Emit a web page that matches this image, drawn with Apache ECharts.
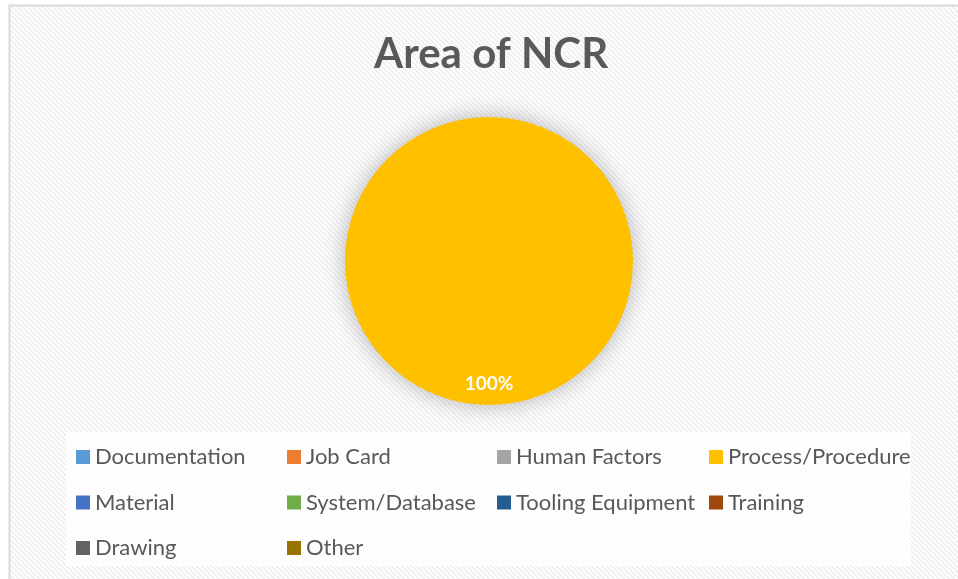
<!DOCTYPE html>
<html>
<head>
<meta charset="utf-8">
<script src="https://cdn.jsdelivr.net/npm/echarts@6/dist/echarts.min.js"></script>
<style>
  html, body { margin: 0; padding: 0; background: #fff; }
  #chart { width: 958px; height: 579px; }
</style>
</head>
<body>
<div id="chart"></div>
<script>
// categories and values (only Process/Procedure has any NCRs -> 100%)
const categories = ['Documentation', 'Job Card', 'Human Factors', 'Process/Procedure',
  'Material', 'System/Database', 'Tooling Equipment', 'Training', 'Drawing', 'Other'];
const counts = [0, 0, 0, 1, 0, 0, 0, 0, 0, 0];
const colors = ['#5B9BD5', '#ED7D31', '#A5A5A5', '#FFC000', '#4472C4',
  '#70AD47', '#255E91', '#9E480E', '#636363', '#997300'];

// legend columns, like Excel lays them out
const legendCols = [
  ['Documentation', 'Material', 'Drawing'],
  ['Job Card', 'System/Database', 'Other'],
  ['Human Factors', 'Tooling Equipment'],
  ['Process/Procedure', 'Training']
];
const legendLeft = [76, 287, 497, 709];

// diagonal hatch used as the chart area fill
function makeHatch() {
  const c = document.createElement('canvas');
  c.width = 5; c.height = 5;
  const ctx = c.getContext('2d');
  const img = ctx.createImageData(5, 5);
  for (let y = 0; y < 5; y++) {
    for (let x = 0; x < 5; x++) {
      const i = (y * 5 + x) * 4;
      const on = ((x - y + 10) % 5) < 2;
      const v = on ? 238 : 253;
      img.data[i] = v; img.data[i + 1] = v; img.data[i + 2] = v; img.data[i + 3] = 255;
    }
  }
  ctx.putImageData(img, 0, 0);
  return c;
}

const myChart = echarts.init(document.getElementById('chart'));

const option = {
  backgroundColor: '#fff',
  animation: false,
  graphic: [
    {
      type: 'rect', z: -10, silent: true,
      shape: { x: 9.5, y: 5.5, width: 960, height: 590 },
      style: { fill: { image: makeHatch(), repeat: 'repeat' }, stroke: '#d9d9d9', lineWidth: 2 }
    },
    {
      type: 'rect', z: -9, silent: true,
      shape: { x: 66, y: 432, width: 845, height: 134 },
      style: { fill: 'rgba(255,255,255,0.75)' }
    }
  ],
  title: {
    text: 'Area of NCR',
    left: 369,
    top: 28,
    textStyle: { fontFamily: 'Lato', fontWeight: 'bold', fontSize: 42, color: '#595959' }
  },
  legend: legendCols.map((col, i) => ({
    data: col,
    orient: 'vertical',
    left: legendLeft[i],
    top: 446,
    padding: 0,
    itemWidth: 14,
    itemHeight: 14,
    itemGap: 23.5,
    icon: 'rect',
    selectedMode: false,
    textStyle: { fontFamily: 'Lato', fontSize: 22, color: '#595959', lineHeight: 20 }
  })),
  series: [{
    type: 'pie',
    center: [489, 261],
    radius: [0, 144],
    startAngle: 90,
    clockwise: true,
    silent: true,
    data: categories.map((name, i) => ({
      name: name,
      value: counts[i],
      itemStyle: { color: colors[i] }
    })),
    itemStyle: {
      borderWidth: 0,
      shadowBlur: 22,
      shadowColor: 'rgba(0,0,0,0.28)'
    },
    label: {
      show: true,
      position: 'inside',
      formatter: p => (p.value > 0 ? Math.round(p.percent) + '%' : ''),
      color: '#fff',
      fontFamily: 'Lato',
      fontWeight: 'bold',
      fontSize: 19
    },
    labelLine: { show: false },
    labelLayout: { dy: 48 }
  }]
};

myChart.setOption(option);
</script>
</body>
</html>
